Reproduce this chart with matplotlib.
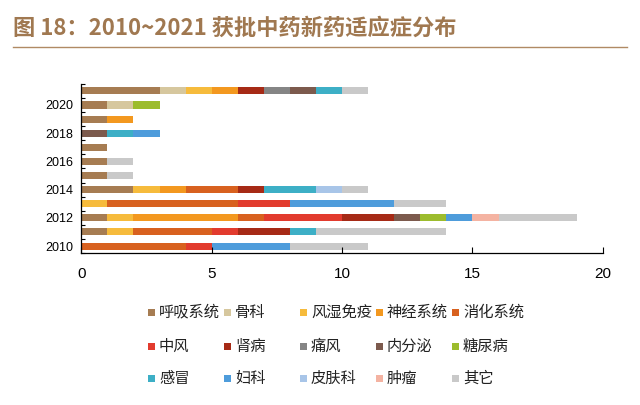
import numpy as np
import matplotlib.pyplot as plt
from matplotlib.patches import Rectangle

plt.rcParams['font.family'] = ['Noto Sans CJK SC', 'DejaVu Sans']

years = [2010, 2011, 2012, 2013, 2014, 2015, 2016, 2017, 2018, 2019, 2020, 2021]
categories = ['呼吸系统', '骨科', '风湿免疫', '神经系统', '消化系统',
              '中风', '肾病', '痛风', '内分泌', '糖尿病',
              '感冒', '妇科', '皮肤科', '肿瘤', '其它']
colors = ['#A67C52', '#D6C79E', '#F6BB3C', '#F3981F', '#D8611F',
          '#E23B2E', '#A62A16', '#858585', '#7C5A4D', '#9CBC2D',
          '#3DAFC6', '#4E9CDB', '#A8C5E8', '#F4B3A2', '#C9C9C9']

# counts per category, one list per category, years 2010..2021
resp    = [0, 1, 1, 0, 2, 1, 1, 1, 0, 1, 1, 3]
ortho   = [0, 0, 0, 0, 0, 0, 0, 0, 0, 0, 1, 1]
rheum   = [0, 1, 1, 1, 1, 0, 0, 0, 0, 0, 0, 1]
neuro   = [0, 0, 4, 0, 1, 0, 0, 0, 0, 1, 0, 1]
digest  = [4, 3, 1, 5, 2, 0, 0, 0, 0, 0, 0, 0]
stroke  = [1, 1, 3, 2, 0, 0, 0, 0, 0, 0, 0, 0]
kidney  = [0, 2, 2, 0, 1, 0, 0, 0, 0, 0, 0, 1]
gout    = [0, 0, 0, 0, 0, 0, 0, 0, 0, 0, 0, 1]
endo    = [0, 0, 1, 0, 0, 0, 0, 0, 1, 0, 0, 1]
diab    = [0, 0, 1, 0, 0, 0, 0, 0, 0, 0, 1, 0]
cold    = [0, 1, 0, 0, 2, 0, 0, 0, 1, 0, 0, 1]
gyn     = [3, 0, 1, 4, 0, 0, 0, 0, 1, 0, 0, 0]
derm    = [0, 0, 0, 0, 1, 0, 0, 0, 0, 0, 0, 0]
tumor   = [0, 0, 1, 0, 0, 0, 0, 0, 0, 0, 0, 0]
other   = [3, 5, 3, 2, 1, 1, 1, 0, 0, 0, 0, 1]
series = [resp, ortho, rheum, neuro, digest, stroke, kidney, gout,
          endo, diab, cold, gyn, derm, tumor, other]

W, H = 640, 405
fig = plt.figure(figsize=(6.4, 4.05), dpi=100)
ax = fig.add_axes([0.127, 0.375, 0.815, 0.418])

y = np.arange(len(years))
left = np.zeros(len(years))
for name, vals, c in zip(categories, series, colors):
    vals = np.array(vals, dtype=float)
    ax.barh(y, vals, left=left, height=0.5, color=c, linewidth=0)
    left += vals

ax.set_xlim(0, 20)
ax.set_ylim(-0.5, 11.5)
ax.set_xticks([0, 5, 10, 15, 20])
ax.set_yticks(y[::2])
ax.set_yticklabels([str(v) for v in years[::2]], fontsize=9, family='Liberation Sans')
ax.set_yticks(np.arange(-0.5, 12, 1), minor=True)
ax.tick_params(axis='y', which='major', length=0, pad=6)
ax.tick_params(axis='y', which='minor', direction='in', length=3, width=0.8)
ax.tick_params(axis='x', direction='in', length=4, labelsize=11, pad=10)
for lab in ax.get_xticklabels():
    lab.set_family('Liberation Sans')
for s in ['top', 'right']:
    ax.spines[s].set_visible(False)
ax.spines['left'].set_linewidth(0.9)
ax.spines['bottom'].set_linewidth(0.9)

# legend: 3 rows x 5 columns, evenly spaced columns
col_x = [148, 224, 300, 376, 452]
row_y = [312, 346, 378]
for i, (name, c) in enumerate(zip(categories, colors)):
    r, k = divmod(i, 5)
    px, py = col_x[k], row_y[r]
    fig.add_artist(Rectangle((px / W, 1 - (py + 3.5) / H), 7 / W, 7 / H,
                             facecolor=c, edgecolor='none', transform=fig.transFigure))
    fig.text((px + 11) / W, 1 - py / H, name, fontsize=11, va='center', ha='left',
             color='#222222')

fig.text(0.02, 1 - 28 / H, '图 18：2010~2021 获批中药新药适应症分布', fontsize=16,
         fontweight='bold', color='#A07850', va='center')
fig.add_artist(plt.Line2D([0.02, 0.98], [1 - 47 / H, 1 - 47 / H], color='#B08A64', linewidth=1))

plt.savefig('out.png', dpi=100)
